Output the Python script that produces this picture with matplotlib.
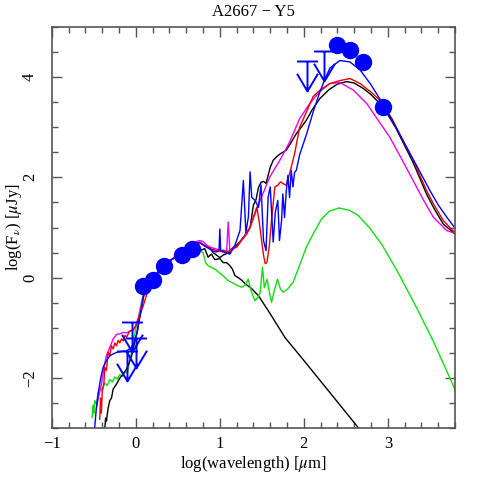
#!/usr/bin/env python3
"""SED of A2667 - Y5: photometry plus model fits. Writes out.png."""
import matplotlib
matplotlib.use("Agg")
import matplotlib.pyplot as plt
from matplotlib.path import Path

# photometry (log wavelength [um], log flux [uJy])
det_x = [0.087, 0.206, 0.337, 0.544, 0.663, 2.398, 2.544, 2.699, 2.944]
det_y = [-0.17, -0.05, 0.23, 0.45, 0.57, 4.64, 4.54, 4.29, 3.41]
ul_x = [-0.10, -0.04, 0.00, 2.04, 2.24]
ul_y = [-1.46, -0.88, -1.21, 4.31, 4.52]

# model curves
black_x = [-0.37, -0.36, -0.35, -0.33, -0.31, -0.29, -0.27, -0.23, -0.19, -0.15, -0.11, -0.07,
           -0.04, -0.01, 0.02, 0.05, 0.09, 0.12, 0.2, 0.3, 0.4, 0.5, 0.6, 0.66, 0.72, 0.76, 0.8,
           0.84, 0.88, 0.92, 0.96, 1.0, 1.04, 1.08, 1.12, 1.16, 1.2, 1.24, 1.3, 1.36, 1.40, 1.43,
           1.46, 1.49, 1.52, 1.55, 1.6, 1.635, 1.675, 1.72, 1.79, 1.85, 1.91, 1.97, 2.03, 2.1,
           2.19, 2.3, 2.4, 2.51, 2.6, 2.71, 2.8, 2.905, 3.0, 3.1, 3.18, 3.3, 3.46, 3.55, 3.66, 3.8]
black_y = [-3.02, -2.80, -2.86, -2.60, -2.45, -2.40, -2.22, -2.12, -2.0, -1.92, -1.82, -1.66,
           -1.50, -1.25, -1.05, -0.73, -0.38, -0.2, -0.05, 0.16, 0.33, 0.44, 0.56, 0.62, 0.66,
           0.70, 0.66, 0.62, 0.60, 0.50, 0.45, 0.40, 0.45, 0.48, 0.51, 0.60, 0.65, 0.72, 0.85,
           1.0, 1.45, 1.55, 1.80, 1.90, 1.92, 1.88, 2.20, 2.34, 2.41, 2.47, 2.54, 2.70, 2.87,
           3.00, 3.14, 3.35, 3.57, 3.75, 3.86, 3.91, 3.88, 3.77, 3.65, 3.47, 3.25, 2.97, 2.70,
           2.30, 1.67, 1.38, 1.07, 0.87]

stars_x = [0.66, 0.74, 0.78, 0.82, 0.86, 0.9, 0.94, 1.0, 1.04, 1.08, 1.12, 1.15, 1.18, 1.22,
           1.26, 1.3, 1.38, 1.46, 1.6, 1.774, 2.0, 2.3, 2.667, 2.8]
stars_y = [0.62, 0.64, 0.55, 0.58, 0.41, 0.47, 0.36, 0.38, 0.30, 0.30, 0.24, 0.17, 0.04, 0.0,
           -0.05, -0.12, -0.22, -0.36, -0.72, -1.19, -1.65, -2.27, -3.03, -3.3]

red_x = [-0.43, -0.42, -0.41, -0.40, -0.38, -0.37, -0.35, -0.33, -0.31, -0.29, -0.27, -0.25,
         -0.23, -0.21, -0.19, -0.17, -0.15, -0.13, -0.11, -0.08, -0.05, -0.01, 0.02, 0.05, 0.09,
         0.13, 0.17, 0.2, 0.3, 0.4, 0.5, 0.6, 0.66, 0.72, 0.76, 0.8, 0.84, 0.88, 0.92, 0.96,
         1.0, 1.04, 1.08, 1.12, 1.16, 1.2, 1.26, 1.32, 1.36, 1.40, 1.44, 1.47, 1.50, 1.52, 1.54,
         1.56, 1.59, 1.615, 1.655, 1.69, 1.72, 1.75, 1.79, 1.83, 1.89, 1.95, 2.03, 2.11, 2.2,
         2.31, 2.43, 2.55, 2.67, 2.8, 2.905, 3.05, 3.18, 3.3, 3.46, 3.55, 3.66, 3.79]
red_y = [-2.82, -2.40, -2.70, -2.26, -2.10, -1.79, -1.85, -1.49, -1.55, -1.36, -1.42, -1.30,
         -1.36, -1.25, -1.30, -1.22, -1.26, -1.15, -1.19, -1.08, -1.05, -0.99, -0.85, -0.73,
         -0.55, -0.33, -0.13, -0.04, 0.17, 0.33, 0.45, 0.57, 0.64, 0.68, 0.71, 0.66, 0.62, 0.58,
         0.56, 0.54, 0.52, 0.55, 0.51, 0.55, 0.60, 0.61, 0.75, 0.87, 1.0, 1.21, 1.41, 1.10,
         0.70, 0.45, 0.28, 0.30, 0.65, 1.14, 1.81, 1.84, 1.91, 1.88, 1.84, 2.07, 2.47, 3.0,
         3.30, 3.61, 3.75, 3.87, 3.93, 3.97, 3.87, 3.70, 3.54, 3.17, 2.74, 2.35, 1.74, 1.45,
         1.14, 0.91]

mag_x = [-0.47, -0.44, -0.41, -0.38, -0.35, -0.31, -0.27, -0.23, -0.19, -0.15, -0.11, -0.07,
         -0.03, -0.01, 0.02, 0.05, 0.08, 0.11, 0.15, 0.2, 0.3, 0.4, 0.5, 0.6, 0.66, 0.72, 0.76,
         0.8, 0.85, 0.9, 0.96, 1.0, 1.03, 1.06, 1.08, 1.10, 1.12, 1.16, 1.2, 1.28, 1.36, 1.48,
         1.595, 1.714, 1.83, 1.95, 2.07, 2.19, 2.31, 2.43, 2.59, 2.75, 2.88, 3.02, 3.16, 3.30,
         3.42, 3.54, 3.70, 3.79]
mag_y = [-2.60, -2.35, -2.13, -1.80, -1.55, -1.39, -1.22, -1.13, -1.12, -1.09, -1.10, -1.06,
         -1.05, -0.99, -0.88, -0.66, -0.45, -0.26, -0.12, -0.02, 0.18, 0.34, 0.45, 0.58, 0.66,
         0.72, 0.74, 0.72, 0.64, 0.60, 0.57, 0.55, 0.51, 0.53, 0.50, 1.11, 0.52, 0.57, 0.61,
         0.80, 1.01, 1.54, 2.01, 2.34, 2.70, 3.17, 3.47, 3.71, 3.87, 3.89, 3.74, 3.47, 3.15,
         2.81, 2.38, 1.94, 1.56, 1.21, 0.94, 0.89]

blue_x = [-0.49, -0.47, -0.45, -0.42, -0.39, -0.35, -0.31, -0.27, -0.23, -0.17, -0.11, -0.06,
          -0.02, 0.01, 0.03, 0.07, 0.11, 0.15, 0.2, 0.3, 0.4, 0.5, 0.6, 0.66, 0.72, 0.76, 0.82,
          0.88, 0.92, 0.96, 0.99, 1.0, 1.01, 1.06, 1.12, 1.18, 1.24, 1.28, 1.31, 1.34, 1.36,
          1.38, 1.42, 1.46, 1.49, 1.52, 1.55, 1.575, 1.6, 1.635, 1.66, 1.69, 1.71, 1.735, 1.75,
          1.77, 1.79, 1.81, 1.83, 1.85, 1.87, 1.89, 1.91, 1.95, 2.03, 2.11, 2.19, 2.25, 2.31,
          2.43, 2.55, 2.67, 2.79, 2.94, 3.08, 3.22, 3.36, 3.5, 3.60, 3.70, 3.79]
blue_y = [-2.99, -2.60, -2.33, -2.02, -1.79, -1.65, -1.56, -1.52, -1.49, -1.47, -1.46, -1.40,
          -1.30, -1.13, -0.95, -0.59, -0.19, -0.08, 0.0, 0.18, 0.33, 0.45, 0.57, 0.64, 0.68,
          0.70, 0.63, 0.57, 0.53, 0.51, 0.55, 0.97, 0.55, 0.50, 0.47, 0.65, 0.94, 1.94, 0.90,
          1.21, 2.11, 1.60, 1.54, 1.40, 1.85, 0.74, 0.54, 1.61, 1.81, 0.71, 1.30, 1.54, 0.74,
          1.14, 1.67, 1.20, 1.71, 2.04, 1.60, 2.14, 1.81, 2.10, 2.14, 2.45, 2.85, 3.30, 3.70,
          3.95, 4.18, 4.33, 4.30, 4.14, 3.87, 3.47, 3.05, 2.61, 2.18, 1.74, 1.45, 1.21, 1.01]

green_x = [-0.52, -0.51, -0.50, -0.49, -0.47, -0.45, -0.43, -0.40, -0.37, -0.34, -0.31, -0.28,
           -0.25, -0.22, -0.19, -0.16, -0.13, -0.11, -0.09, -0.07, -0.05, -0.03, -0.01, 0.01,
           0.03, 0.05, 0.07, 0.1, 0.15, 0.2, 0.3, 0.4, 0.5, 0.6, 0.66, 0.74, 0.80, 0.83, 0.86,
           0.95, 1.05, 1.10, 1.15, 1.20, 1.258, 1.30, 1.337, 1.37, 1.417, 1.45, 1.48, 1.508,
           1.53, 1.563, 1.59, 1.615, 1.65, 1.687, 1.72, 1.754, 1.81, 1.873, 1.95, 2.03, 2.12,
           2.21, 2.31, 2.42, 2.548, 2.647, 2.78, 2.925, 3.1, 3.34, 3.54, 3.80]
green_y = [-2.79, -2.55, -2.70, -2.45, -2.53, -2.30, -2.19, -2.25, -2.10, -2.15, -2.03, -2.08,
           -1.98, -2.02, -1.93, -1.97, -1.88, -1.90, -1.82, -1.59, -1.50, -1.23, -1.10, -0.95,
           -0.86, -0.62, -0.46, -0.22, -0.1, -0.03, 0.17, 0.33, 0.44, 0.55, 0.60, 0.55, 0.50,
           0.30, 0.24, 0.16, 0.02, -0.06, -0.10, -0.15, -0.19, -0.15, -0.03, -0.25, -0.46,
           -0.40, -0.30, 0.21, -0.20, -0.03, -0.30, -0.49, -0.25, -0.03, -0.22, -0.29, -0.22,
           -0.09, 0.25, 0.61, 0.90, 1.17, 1.33, 1.39, 1.34, 1.24, 1.00, 0.67, 0.17, -0.59, -1.26,
           -2.23]

# upper-limit symbol: bar, stem, open arrowhead (marker units)
ul_path = Path(
    [(-10.5, 0), (10.5, 0), (0, 0), (0, -30), (-10.5, -12.3), (0, -30), (10.5, -12.3)],
    [Path.MOVETO, Path.LINETO, Path.MOVETO, Path.LINETO, Path.MOVETO, Path.LINETO, Path.LINETO])

plt.rcParams["font.family"] = ["Liberation Serif", "DejaVu Serif"]
plt.rcParams["mathtext.fontset"] = "stix"

fig = plt.figure(figsize=(4.8, 4.8), dpi=100)
ax = fig.add_axes([0.108, 0.108, 0.840, 0.836])

lw = 1.0
ax.plot(stars_x, stars_y, color="black", lw=lw)
ax.plot(green_x, green_y, color="#11dd11", lw=lw)
ax.plot(black_x, black_y, color="black", lw=lw)
ax.plot(mag_x, mag_y, color="#ee00ee", lw=lw)
ax.plot(red_x, red_y, color="#ee0000", lw=lw)
ax.plot(blue_x, blue_y, color="#0000ff", lw=lw)

ax.plot(ul_x, ul_y, ls="none", marker=ul_path, markersize=43, color="#0000ff",
        markerfacecolor="none", markeredgewidth=1.4)
ax.plot(det_x, det_y, ls="none", marker="o", markersize=11.5, color="#0000ff")

ax.set_xlim(-1, 3.8)
ax.set_ylim(-3, 5)
ax.set_xticks([-1, 0, 1, 2, 3])
ax.set_xticklabels(["\u22121", "0", "1", "2", "3"])
ax.set_yticks([-2, 0, 2, 4])
ax.set_yticklabels(["\u22122", "0", "2", "4"], rotation=90, va="center")
ax.xaxis.set_minor_locator(matplotlib.ticker.MultipleLocator(0.2))
ax.yaxis.set_minor_locator(matplotlib.ticker.MultipleLocator(0.5))
ax.tick_params(which="both", direction="in", top=True, right=True, color="#555555",
               labelsize=12)
ax.tick_params(axis="x", pad=6)
ax.tick_params(axis="y", pad=10)
ax.tick_params(which="major", length=7, width=1.0)
ax.tick_params(which="minor", length=4, width=1.0)
for s in ax.spines.values():
    s.set_color("#555555")
    s.set_linewidth(1.2)

ax.set_xlabel(r"log(wavelength) [$\mu$m]", fontsize=12, labelpad=1)
ax.set_ylabel(r"log(F$_\nu$) [$\mu$Jy]", fontsize=12, va="center")
ax.yaxis.set_label_coords(-0.095, 0.5)
ax.set_title("A2667 \u2212 Y5", fontsize=12, pad=8)

fig.savefig("out.png", dpi=100)
